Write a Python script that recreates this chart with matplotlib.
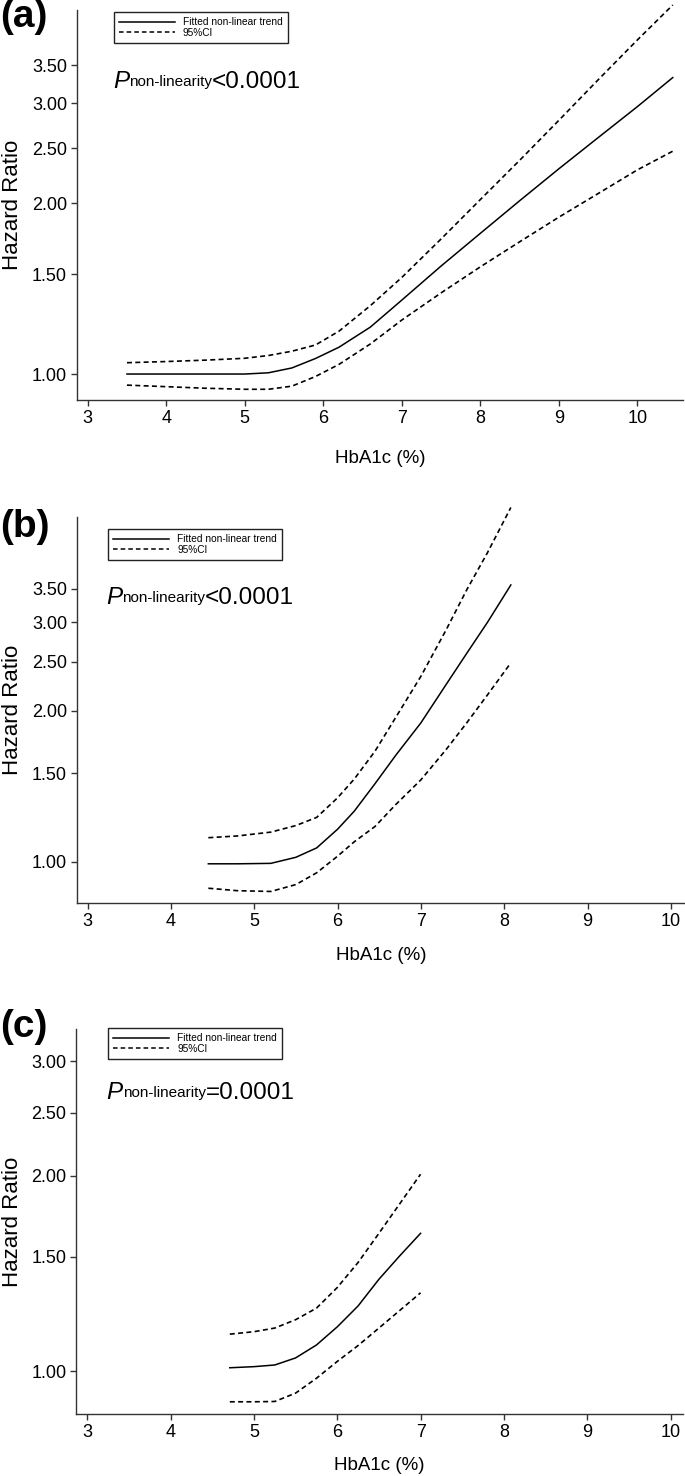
import matplotlib
matplotlib.use('Agg')
import matplotlib.pyplot as plt
from matplotlib.ticker import FixedLocator, FormatStrFormatter, NullLocator
from matplotlib.lines import Line2D

plt.rcParams['font.family'] = ['Liberation Sans', 'DejaVu Sans']

# panel (a)
hba1c_a = [3.5, 4.0, 4.5, 5.0, 5.3, 5.6, 5.9, 6.2, 6.6, 7.0, 7.5, 8.0, 8.5, 9.0, 9.5, 10.0, 10.45]
hr_a = [1.00, 1.00, 1.00, 1.00, 1.005, 1.025, 1.065, 1.115, 1.21, 1.35, 1.55, 1.77, 2.02, 2.30, 2.61, 2.96, 3.33]
lo_a = [0.956, 0.950, 0.944, 0.940, 0.940, 0.952, 0.99, 1.04, 1.13, 1.245, 1.39, 1.545, 1.71, 1.89, 2.08, 2.29, 2.47]
hi_a = [1.047, 1.052, 1.058, 1.066, 1.078, 1.097, 1.125, 1.19, 1.32, 1.48, 1.73, 2.03, 2.38, 2.80, 3.30, 3.88, 4.47]

# panel (b)
hba1c_b = [4.45, 4.8, 5.2, 5.5, 5.75, 6.0, 6.2, 6.45, 6.7, 7.0, 7.3, 7.55, 7.8, 8.08]
hr_b = [0.99, 0.99, 0.992, 1.02, 1.065, 1.16, 1.26, 1.43, 1.63, 1.89, 2.25, 2.60, 3.00, 3.56]
lo_b = [0.885, 0.875, 0.872, 0.90, 0.95, 1.025, 1.095, 1.175, 1.30, 1.455, 1.67, 1.89, 2.15, 2.49]
hi_b = [1.116, 1.125, 1.145, 1.18, 1.225, 1.34, 1.46, 1.66, 1.94, 2.34, 2.89, 3.48, 4.13, 5.08]

# panel (c)
hba1c_c = [4.71, 5.0, 5.25, 5.5, 5.75, 6.0, 6.25, 6.5, 6.75, 7.0]
hr_c = [1.012, 1.016, 1.022, 1.048, 1.097, 1.17, 1.26, 1.385, 1.505, 1.63]
lo_c = [0.897, 0.897, 0.898, 0.925, 0.975, 1.035, 1.095, 1.165, 1.24, 1.32]
hi_c = [1.14, 1.15, 1.165, 1.20, 1.25, 1.345, 1.47, 1.63, 1.81, 2.01]

xticks = [3, 4, 5, 6, 7, 8, 9, 10]
yticks_ab = [1.00, 1.50, 2.00, 2.50, 3.00, 3.50]
yticks_c = [1.00, 1.50, 2.00, 2.50, 3.00]
letters = ['(a)', '(b)', '(c)']
p_values = ['<0.0001', '<0.0001', '=0.0001']
legend_labels = ['Fitted non-linear trend', '95%CI']

W, H = 685, 1476
fig = plt.figure(figsize=(W / 100, H / 100), dpi=100)


def fx(px):
    return px / W


def fy(py):
    return 1 - py / H


def draw_panel(box, x, hr, lo, hi, xlim, ylim, yticks, letter, letter_y,
               legend_xy, p_xy, p_val, xlabel_y):
    left, top, right, bottom = box
    ax = fig.add_axes([fx(left), fy(bottom), (right - left) / W, (bottom - top) / H])

    ax.plot(x, hr, color='black', lw=1.1, clip_on=False)
    ax.plot(x, lo, color='black', lw=1.2, ls=(0, (3, 2)), clip_on=False)
    ax.plot(x, hi, color='black', lw=1.2, ls=(0, (3, 2)), clip_on=False)

    ax.set_yscale('log')
    ax.set_xlim(*xlim)
    ax.set_ylim(*ylim)
    ax.yaxis.set_major_locator(FixedLocator(yticks))
    ax.yaxis.set_major_formatter(FormatStrFormatter('%.2f'))
    ax.yaxis.set_minor_locator(NullLocator())
    ax.set_xticks(xticks)

    for s in ['top', 'right']:
        ax.spines[s].set_visible(False)
    for s in ['left', 'bottom']:
        ax.spines[s].set_color('#333333')
        ax.spines[s].set_linewidth(1.0)
    ax.tick_params(direction='out', length=4, width=1, color='#333333',
                   labelsize=13, pad=3)

    width_px = right - left
    height_px = bottom - top
    ax.set_ylabel('Hazard Ratio', fontsize=16, va='center')
    ax.yaxis.set_label_coords((13 - left) / width_px, 0.5)
    ax.set_xlabel('HbA1c (%)', fontsize=13.5, va='center')
    ax.xaxis.set_label_coords(0.5, (bottom - xlabel_y) / height_px)

    # legend box
    handles = [Line2D([], [], color='black', lw=1.1),
               Line2D([], [], color='black', lw=1.1, ls=(0, (3, 2)))]
    leg = ax.legend(handles, legend_labels, loc='upper left',
                    bbox_to_anchor=(fx(legend_xy[0]), fy(legend_xy[1])),
                    bbox_transform=fig.transFigure, borderaxespad=0,
                    fontsize=7.3, fancybox=False, edgecolor='#222222',
                    handlelength=5.5, handletextpad=0.8, labelspacing=0.05,
                    borderpad=0.5, framealpha=1)
    leg.get_frame().set_linewidth(1.0)

    # P non-linearity text, pieces placed one after the other
    t1 = fig.text(fx(p_xy[0]), fy(p_xy[1]), 'P', fontsize=17.5, style='italic',
                  va='baseline')
    t2 = ax.annotate('non-linearity', xy=(1.0, fy(p_xy[1] - 1.5)),
                     xycoords=(t1, 'figure fraction'), fontsize=11,
                     va='baseline', ha='left')
    ax.annotate(p_val, xy=(1.0, fy(p_xy[1])), xycoords=(t2, 'figure fraction'),
                fontsize=17.5, va='baseline', ha='left')

    fig.text(fx(0), fy(letter_y), letter, fontsize=28, fontweight='bold',
             va='baseline')
    return ax


draw_panel((76.7, 10, 683, 400), hba1c_a, hr_a, lo_a, hi_a,
           (2.86, 10.58), (0.90, 4.38), yticks_ab, letters[0], 27,
           (114, 12.3), (113, 87.5), p_values[0], 459)
draw_panel((76.7, 516.7, 685, 903), hba1c_b, hr_b, lo_b, hi_b,
           (2.87, 10.17), (0.827, 4.87), yticks_ab, letters[1], 537,
           (108.3, 529.3), (106, 604), p_values[1], 955)
draw_panel((76, 1029.3, 683, 1414), hba1c_c, hr_c, lo_c, hi_c,
           (2.864, 10.15), (0.859, 3.36), yticks_c, letters[2], 1037,
           (108.3, 1028.3), (106.7, 1099), p_values[2], 1465)

fig.savefig('out.png', dpi=100, facecolor='white')
